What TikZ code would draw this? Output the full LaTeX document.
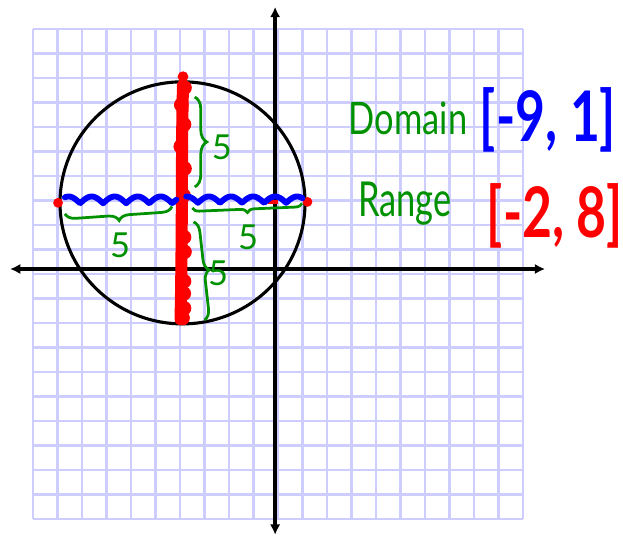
\documentclass[tikz,border=0pt]{standalone}
\usepackage{fontspec}
\setmainfont{Lato}
\usetikzlibrary{arrows.meta, decorations.pathreplacing}

\definecolor{gridblue}{RGB}{205,205,255}
\definecolor{penred}{RGB}{255,0,0}
\definecolor{penblue}{RGB}{0,0,255}
\definecolor{pengreen}{RGB}{0,145,0}

\begin{document}
\begin{tikzpicture}[
    x=0.5cm, y=0.5cm,
    gridline/.style={gridblue, line width=1.3pt},
    axis/.style={{Latex[length=6pt,width=6pt]}-{Latex[length=6pt,width=6pt]}, line width=1.9pt},
    curve/.style={line width=1.8pt},
    rangepen/.style={penred, line width=7pt, line cap=round},
    domainpen/.style={penblue, line width=3.4pt, line cap=round, line join=round},
    brace5/.style={pengreen, line width=1.6pt, decorate, decoration={brace, amplitude=#1}},
    five/.style={pengreen, font=\fontsize{20}{20}\selectfont},
    word/.style={pengreen, anchor=base, font=\fontsize{20}{24}\selectfont},
    interval/.style={font=\bfseries\fontsize{30}{36}\selectfont}
]
\useasboundingbox (-11.35,-10.69) rectangle (14.08,11.18);

% Grid
\foreach \k in {-10,...,10} {
  \draw[gridline] (\k,-10) -- (\k,10);
  \draw[gridline] (-10,\k) -- (10,\k);
}

% Axes
\draw[axis] (-10.94,0.2) -- (10.9,0.2);
\draw[axis] (-0.12,-10.65) -- (-0.12,10.9);

% Circle
\draw[curve] (-3.9,2.9) ellipse (5 and 4.94);

% Range (red)
\draw[rangepen] (-3.88,7.7) .. controls (-3.95,5) and (-3.9,2) .. (-3.98,-1.85);
\fill[penred] (-3.88,8.05) circle (0.22);
\foreach \bx/\by in {-3.82/7.6, -3.95/6.9, -3.84/6.1, -3.97/5.2, -3.82/4.3, -3.86/3.2,
                     -3.84/1.5, -3.82/0.9, -3.84/-0.3, -3.85/-0.8, -3.84/-1.4, -3.9/-1.8}
  \fill[penred] (\bx,\by) circle (0.3);

% Domain (blue)
\fill[penred] (-8.98,2.9) circle (0.2);
\fill[penred] (1.2,2.94) circle (0.2);
\draw[penred, line width=2pt] (-0.4,2.94) -- (0,2.94);
\draw[domainpen] plot[domain=-8.7:-4.15, samples=150]
  (\x, {2.88 + 0.28*abs(sin(180*(\x+8.08)/0.94))});
\draw[domainpen] plot[domain=-3.75:1.0, samples=150]
  (\x, {2.9 + 0.26*abs(sin(180*(\x+2.37)/0.9))});

% Braces
\draw[brace5=7pt] (-3.4,7.22) -- (-3.4,3.55);
\node[five] (fiveup) at (-2.29,5.18) {5};
\draw[brace5=6pt] (-3.45,2.12) -- (-3.0,-1.88);
\node[five] (fivedown) at (-2.45,0.04) {5};
\draw[brace5=6pt] (-4.33,2.75) -- (-8.7,2.45);
\node[five] (fiveleft) at (-6.45,1.18) {5};
\draw[brace5=4pt] (0.98,2.88) -- (-3.5,2.69);
\node[five] (fiveright) at (-1.22,1.51) {5};

% Labels
\node[word] (domainword) at (5.31,5.67) {\scalebox{1}[1.3]{Domain}};
\node[interval, penblue] (domainint) at (11.02,6.29) {\scalebox{1}[1.35]{[-9, 1]}};
\node[word] (rangeword) at (5.18,2.33) {\scalebox{1}[1.4]{Range}};
\node[interval, penred] (rangeint) at (11.3,2.37) {\scalebox{1}[1.35]{[-2, 8]}};

\end{tikzpicture}
\end{document}
